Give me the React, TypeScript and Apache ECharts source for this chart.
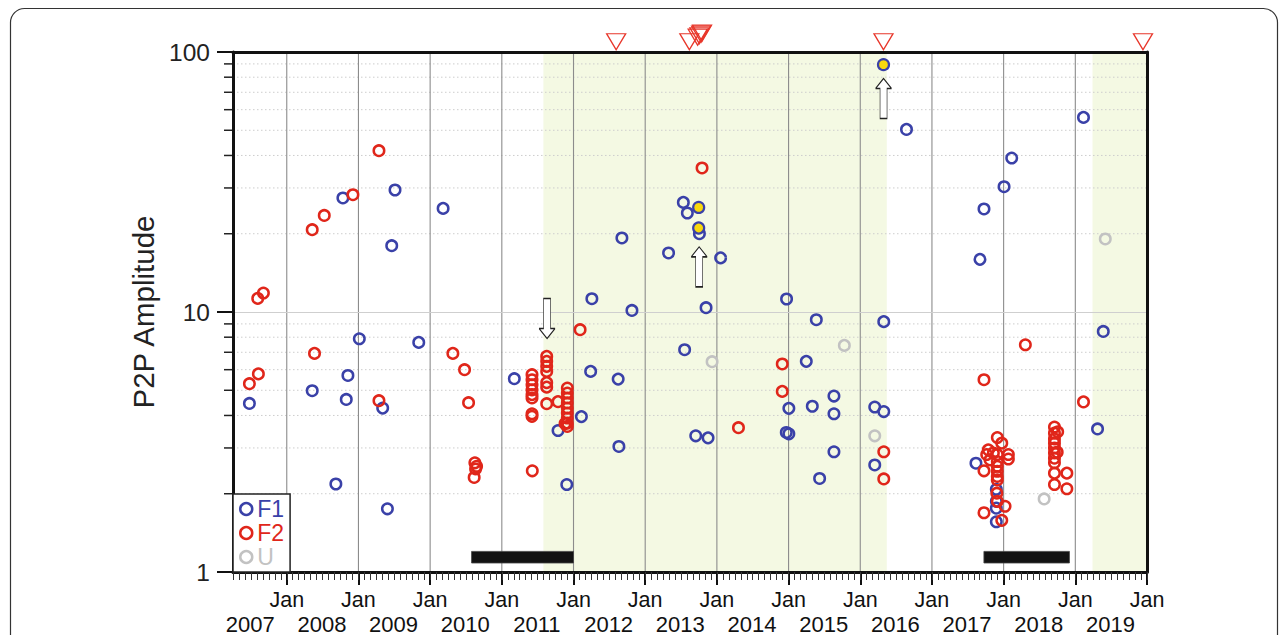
import React, { useEffect, useRef } from 'react';
import * as echarts from 'echarts';

const BLUE = '#3a41a8';
const RED = '#e0261a';
const GRAY = '#c2c2c2';
const YELLOW = '#f8d80c';
const TRI_RED = '#e8372b';
const SHADE = '#f4f9e3';
const FONT = "'Liberation Sans', Arial, Helvetica, sans-serif";

const X_MIN_YEAR = 2007.25;
const X_MAX_YEAR = 2020;
const Y_MIN = 1;
const Y_MAX = 100;
const JAN_YEARS = [2008, 2009, 2010, 2011, 2012, 2013, 2014, 2015, 2016, 2017, 2018, 2019, 2020];
const YEAR_LABELS = [2007, 2008, 2009, 2010, 2011, 2012, 2013, 2014, 2015, 2016, 2017, 2018, 2019];
const Y_MINOR = [2, 3, 4, 5, 6, 7, 8, 9, 20, 30, 40, 50, 60, 70, 80, 90];

// [decimal year, P2P amplitude]
const F1: [number, number][] = [
  [2007.479, 4.45], [2008.355, 4.98], [2008.783, 27.45], [2008.853, 5.7], [2008.83, 4.61],
  [2008.685, 2.18], [2009.012, 7.89], [2009.51, 29.46], [2009.464, 17.99], [2009.338, 4.27],
  [2009.404, 1.75], [2009.841, 7.64], [2010.181, 25.03], [2011.174, 5.54], [2011.784, 3.5],
  [2011.906, 2.17], [2012.11, 3.96], [2012.239, 5.91], [2012.256, 11.25], [2012.623, 5.52],
  [2012.633, 3.04], [2012.675, 19.26], [2012.815, 10.14], [2013.326, 16.87], [2013.532, 26.4],
  [2013.588, 24.03], [2013.55, 7.16], [2013.705, 3.34], [2013.756, 20.01], [2013.849, 10.39],
  [2013.877, 3.28], [2014.052, 16.15], [2014.972, 11.22], [2015.004, 4.26], [2014.968, 3.44],
  [2015.004, 3.4], [2015.247, 6.46], [2015.331, 4.34], [2015.387, 9.34], [2015.433, 2.29],
  [2015.633, 4.75], [2015.633, 4.06], [2015.633, 2.9], [2016.202, 4.31], [2016.328, 4.14],
  [2016.202, 2.58], [2016.328, 9.18], [2016.645, 50.38], [2017.614, 2.62], [2017.67, 15.94],
  [2017.726, 24.9], [2017.898, 2.08], [2017.898, 1.87], [2017.898, 1.76], [2017.898, 1.56],
  [2018.006, 30.33], [2018.113, 39.11], [2019.114, 56.03], [2019.31, 3.55], [2019.39, 8.42],
];

const F1_HIGHLIGHT: [number, number][] = [
  [2013.746, 25.25], [2013.746, 21.04], [2016.324, 89.4],
];

const F2: [number, number][] = [
  [2007.595, 11.28], [2007.674, 11.83], [2007.479, 5.3], [2007.604, 5.78], [2008.355, 20.73],
  [2008.387, 6.93], [2008.523, 23.52], [2008.923, 28.26], [2009.286, 41.73], [2009.286, 4.56],
  [2010.317, 6.93], [2010.48, 6.0], [2010.536, 4.48], [2010.624, 2.63], [2010.648, 2.55],
  [2010.634, 2.49], [2010.614, 2.31],
  [2011.421, 5.74], [2011.421, 5.49], [2011.421, 5.25], [2011.421, 5.02], [2011.421, 4.81],
  [2011.421, 4.67], [2011.421, 4.06], [2011.421, 3.97], [2011.425, 2.45],
  [2011.626, 6.75], [2011.626, 6.46], [2011.626, 6.18], [2011.626, 5.91], [2011.626, 5.35],
  [2011.626, 5.14], [2011.626, 4.44], [2011.784, 4.52],
  [2011.914, 5.1], [2011.914, 4.88], [2011.914, 4.67], [2011.914, 4.47], [2011.914, 4.27],
  [2011.914, 4.09], [2011.914, 3.91], [2011.914, 3.74], [2011.914, 3.63], [2011.882, 3.72],
  [2012.092, 8.55], [2013.793, 35.8], [2014.301, 3.59], [2014.912, 6.31], [2014.912, 4.95],
  [2016.328, 2.9], [2016.328, 2.28], [2017.726, 5.49], [2018.303, 7.48], [2019.114, 4.51],
  [2017.912, 3.29], [2017.974, 3.13], [2017.786, 2.95], [2017.764, 2.83], [2017.857, 2.87],
  [2018.066, 2.83], [2018.066, 2.72], [2017.81, 2.7], [2017.912, 2.83], [2017.912, 2.66],
  [2017.912, 2.55], [2017.912, 2.44], [2017.912, 2.33], [2017.912, 2.26], [2017.726, 2.45],
  [2017.905, 2.01], [2017.912, 1.87], [2018.02, 1.79], [2017.726, 1.69], [2017.974, 1.58],
  [2018.709, 3.61], [2018.709, 3.42], [2018.709, 3.25], [2018.709, 3.13], [2018.709, 3.0],
  [2018.709, 2.87], [2018.709, 2.74], [2018.709, 2.63], [2018.709, 2.4], [2018.709, 2.17],
  [2018.754, 3.46], [2018.747, 2.89], [2018.882, 2.4], [2018.882, 2.09],
];

const U: [number, number][] = [
  [2013.933, 6.44], [2015.778, 7.44], [2016.202, 3.34], [2018.565, 1.91], [2019.418, 19.09],
];

// eruption markers above the frame: [year, level]
const ERUPTIONS: [number, number][] = [
  [2012.595, 109.5], [2013.616, 109.5], [2013.732, 114.0], [2013.756, 115.5],
  [2013.78, 117.1], [2013.793, 118.1], [2016.324, 109.5], [2019.944, 109.5],
];

const ARROWS_DOWN: [number, number][] = [[2011.631, 9.44]];
const ARROWS_UP: [number, number][] = [[2013.753, 14.91], [2016.325, 66.25]];

// shaded periods [start year, end year]
const SHADED: [number, number][] = [[2011.58, 2016.37], [2019.24, 2020]];
// black bars [start year, end year, level]
const BARS: [number, number, number][] = [[2010.578, 2012.0, 1.14], [2017.725, 2018.918, 1.14]];

const m = (y: number) => y * 12; // years -> months

const ARROW_PATH = 'path://M8,0 L16,10 L11.5,10 L11.5,40 L4.5,40 L4.5,10 L0,10 Z';

function buildOption(): any {
  const xMin = m(X_MIN_YEAR);
  const xMax = m(X_MAX_YEAR);
  const hollow = (c: string) => ({ color: 'rgba(255,255,255,0)', borderColor: c, borderWidth: 2.5, opacity: 1 });
  const conv = (arr: [number, number][]) => arr.map(([y, v]) => [m(y), v]);
  const baseX = { type: 'value', min: xMin, max: xMax, gridIndex: 0, splitLine: { show: false } };

  return {
    animation: false,
    textStyle: { fontFamily: FONT },
    grid: { left: 233, right: 140, top: 52, bottom: 63 },
    graphic: [
      {
        type: 'rect', silent: true, z: -10,
        shape: { x: 10.5, y: 8.5, width: 1267, height: 700, r: 14 },
        style: { fill: 'none', stroke: '#333', lineWidth: 1.2 },
      },
    ],
    legend: {
      orient: 'vertical', left: 233, top: 494, itemWidth: 12, itemHeight: 12, itemGap: 0,
      padding: [3, 6, 3, 6], backgroundColor: '#fff', borderColor: '#222', borderWidth: 1.5,
      selectedMode: false, z: 6,
      textStyle: { fontSize: 23, lineHeight: 24, fontFamily: FONT },
      data: [
        { name: 'F1', icon: 'circle', itemStyle: hollow(BLUE), textStyle: { color: BLUE, fontSize: 23 } },
        { name: 'F2', icon: 'circle', itemStyle: hollow(RED), textStyle: { color: RED, fontSize: 23 } },
        { name: 'U', icon: 'circle', itemStyle: hollow(GRAY), textStyle: { color: GRAY, fontSize: 23 } },
      ],
    },
    xAxis: [
      {
        ...baseX, position: 'bottom', z: 3,
        axisLine: { show: true, onZero: false, lineStyle: { color: '#111', width: 3 } },
        axisTick: { show: true, customValues: JAN_YEARS.map(m), length: 13, lineStyle: { color: '#111', width: 2 } },
        axisLabel: {
          show: true, customValues: JAN_YEARS.map(m), formatter: () => 'Jan',
          fontSize: 21.5, color: '#111', margin: 17, fontFamily: FONT,
        },
      },
      {
        ...baseX, position: 'bottom', z: 3,
        axisLine: { show: false, onZero: false },
        axisTick: { show: false },
        axisLabel: {
          show: true, customValues: YEAR_LABELS.map((y) => m(y + 0.49)),
          formatter: (v: number) => String(Math.round(v / 12 - 0.49)),
          fontSize: 22, color: '#111', margin: 41, fontFamily: FONT,
        },
      },
      {
        ...baseX, position: 'bottom', interval: 1, z: 3,
        axisLine: { show: false, onZero: false },
        axisTick: { show: true, length: 8, lineStyle: { color: '#333', width: 1 } },
        axisLabel: { show: false },
      },
      {
        ...baseX, position: 'top', z: 3,
        axisLine: { show: true, onZero: false, lineStyle: { color: '#111', width: 3 } },
        axisTick: { show: false },
        axisLabel: { show: false },
      },
    ],
    yAxis: [
      {
        type: 'log', logBase: 10, min: Y_MIN, max: Y_MAX, position: 'left', z: 3,
        name: 'P2P Amplitude', nameLocation: 'middle', nameGap: 55,
        nameTextStyle: { fontSize: 29.5, color: '#222', fontFamily: FONT },
        axisLine: { show: true, onZero: false, lineStyle: { color: '#111', width: 3 } },
        axisTick: { show: true, length: 16, lineStyle: { color: '#111', width: 2 } },
        axisLabel: { show: true, fontSize: 24.5, color: '#222', margin: 23, fontFamily: FONT },
        splitLine: { show: true, lineStyle: { color: '#cfcfcf', width: 1 } },
        minorTick: { show: false },
      },
      {
        type: 'log', logBase: 10, min: Y_MIN, max: Y_MAX, position: 'right', z: 3,
        axisLine: { show: true, onZero: false, lineStyle: { color: '#111', width: 3 } },
        axisTick: { show: false },
        axisLabel: { show: false },
        splitLine: { show: false },
      },
    ],
    series: [
      {
        type: 'custom', name: 'shade', silent: true, z: 1, xAxisIndex: 0, yAxisIndex: 0,
        data: SHADED.map(([a, b]) => [m(a), Y_MIN, m(b), Y_MAX]),
        renderItem: (_p: any, api: any) => {
          const p0 = api.coord([api.value(0), api.value(1)]);
          const p1 = api.coord([api.value(2), api.value(3)]);
          return {
            type: 'rect',
            shape: { x: p0[0], y: p1[1], width: p1[0] - p0[0], height: p0[1] - p1[1] },
            style: { fill: SHADE },
          };
        },
      },
      {
        type: 'custom', name: 'minorGrid', silent: true, z: 2, xAxisIndex: 0, yAxisIndex: 0,
        data: Y_MINOR.map((v) => [xMin, v, xMax]),
        renderItem: (_p: any, api: any) => {
          const p0 = api.coord([api.value(0), api.value(1)]);
          const p1 = api.coord([api.value(2), api.value(1)]);
          return {
            type: 'group',
            children: [
              {
                type: 'line',
                shape: { x1: p0[0], y1: p0[1], x2: p1[0], y2: p1[1] },
                style: { stroke: '#cdcdcd', lineWidth: 1, lineDash: [1.5, 2.5] },
              },
              {
                type: 'line',
                shape: { x1: p0[0] - 9, y1: p0[1], x2: p0[0], y2: p0[1] },
                style: { stroke: '#222', lineWidth: 1.5 },
              },
            ],
          };
        },
      },
      {
        type: 'custom', name: 'janLines', silent: true, z: 2, xAxisIndex: 0, yAxisIndex: 0,
        data: JAN_YEARS.slice(0, -1).map((y) => [m(y), Y_MIN, Y_MAX]),
        renderItem: (_p: any, api: any) => {
          const p0 = api.coord([api.value(0), api.value(1)]);
          const p1 = api.coord([api.value(0), api.value(2)]);
          return {
            type: 'line',
            shape: { x1: p0[0], y1: p0[1], x2: p1[0], y2: p1[1] },
            style: { stroke: '#8c8c8c', lineWidth: 1.1 },
          };
        },
      },
      {
        type: 'custom', name: 'bars', silent: true, z: 3, xAxisIndex: 0, yAxisIndex: 0,
        data: BARS.map(([a, b, lv]) => [m(a), lv, m(b)]),
        renderItem: (_p: any, api: any) => {
          const p0 = api.coord([api.value(0), api.value(1)]);
          const p1 = api.coord([api.value(2), api.value(1)]);
          return {
            type: 'rect',
            shape: { x: p0[0], y: p0[1] - 5.8, width: p1[0] - p0[0], height: 11.6 },
            style: { fill: '#121212', stroke: '#444', lineWidth: 0.8 },
          };
        },
      },
      {
        type: 'scatter', name: 'F1', z: 4, xAxisIndex: 0, yAxisIndex: 0,
        symbol: 'circle', symbolSize: 10.5, itemStyle: hollow(BLUE),
        emphasis: { disabled: true }, data: conv(F1),
      },
      {
        type: 'scatter', name: 'F1 highlighted', z: 4, xAxisIndex: 0, yAxisIndex: 0,
        symbol: 'circle', symbolSize: 11,
        itemStyle: { color: YELLOW, borderColor: BLUE, borderWidth: 2.2, opacity: 1 },
        emphasis: { disabled: true }, data: conv(F1_HIGHLIGHT),
      },
      {
        type: 'scatter', name: 'F2', z: 4, xAxisIndex: 0, yAxisIndex: 0,
        symbol: 'circle', symbolSize: 10.5, itemStyle: hollow(RED),
        emphasis: { disabled: true }, data: conv(F2),
      },
      {
        type: 'scatter', name: 'U', z: 4, xAxisIndex: 0, yAxisIndex: 0,
        symbol: 'circle', symbolSize: 10.5, itemStyle: hollow(GRAY),
        emphasis: { disabled: true }, data: conv(U),
      },
      {
        type: 'scatter', name: 'eruptions', z: 5, clip: false, xAxisIndex: 0, yAxisIndex: 0,
        symbol: 'triangle', symbolRotate: 180, symbolSize: [19, 16],
        itemStyle: { color: 'rgba(255,255,255,0)', borderColor: TRI_RED, borderWidth: 1.3, opacity: 1 },
        emphasis: { disabled: true }, data: conv(ERUPTIONS),
      },
      {
        type: 'scatter', name: 'arrowsUp', z: 5, xAxisIndex: 0, yAxisIndex: 0,
        symbol: ARROW_PATH, symbolSize: [16, 40],
        itemStyle: { color: '#fff', borderColor: '#222', borderWidth: 1, opacity: 1 },
        emphasis: { disabled: true }, data: conv(ARROWS_UP),
      },
      {
        type: 'scatter', name: 'arrowsDown', z: 5, xAxisIndex: 0, yAxisIndex: 0,
        symbol: ARROW_PATH, symbolSize: [16, 40], symbolRotate: 180,
        itemStyle: { color: '#fff', borderColor: '#222', borderWidth: 1, opacity: 1 },
        emphasis: { disabled: true }, data: conv(ARROWS_DOWN),
      },
    ],
  };
}

export default function App() {
  const ref = useRef<HTMLDivElement>(null);
  useEffect(() => {
    if (!ref.current) return;
    const chart = echarts.init(ref.current, undefined, { renderer: 'svg' });
    chart.setOption(buildOption());
    return () => chart.dispose();
  }, []);
  return (
    <div
      ref={ref}
      style={{ position: 'fixed', left: 0, top: 0, width: 1287, height: 635, background: '#fff' }}
    />
  );
}
